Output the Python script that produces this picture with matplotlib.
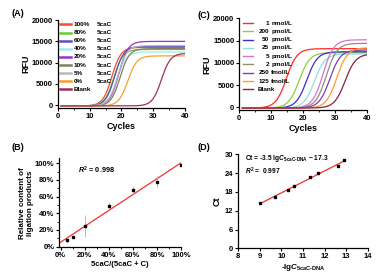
import matplotlib
matplotlib.use('Agg')
import matplotlib.pyplot as plt
from matplotlib.ticker import MultipleLocator, FuncFormatter
import numpy as np

plt.rcParams['font.family'] = ['Liberation Sans', 'DejaVu Sans']
plt.rcParams['font.weight'] = 'bold'
plt.rcParams['axes.labelweight'] = 'bold'
plt.rcParams['mathtext.fontset'] = 'custom'
plt.rcParams['mathtext.rm'] = 'Liberation Sans:bold'
plt.rcParams['mathtext.it'] = 'Liberation Sans:bold:italic'
plt.rcParams['mathtext.bf'] = 'Liberation Sans:bold'

# ---- data ----
# (A) amplification curves: label, midpoint cycle, plateau RFU, colour
a_labels = ['100%', '80%', '60%', '40%', '20%', '10%', '5%', '0%', 'Blank']
a_mid = [17.0, 17.6, 17.9, 18.6, 19.2, 19.6, 18.9, 22.0, 32.6]
a_plateau = [13600, 13100, 13800, 12500, 15000, 13300, 14000, 11600, 12200]
a_colors = ['#F2502A', '#66CC33', '#5B4FC8', '#A8E8E8', '#9B30C8',
            '#808060', '#B8B8B8', '#F5A030', '#A0305A']

# (C) amplification curves for dilution series
c_conc = ['1', '200', '50', '25', '5', '2', '250', '125', '']
c_unit = ['nmol/L', 'pmol/L', 'pmol/L', 'pmol/L', 'pmol/L', 'pmol/L',
          'fmol/L', 'fmol/L', 'Blank']
c_mid = [14.8, 18.8, 21.2, 23.6, 26.3, 27.3, 28.4, 30.6, 33.2]
c_plateau = [13200, 12300, 12500, 12000, 15200, 14400, 12900, 13400, 12000]
c_colors = ['#FF2A2A', '#88D040', '#3A30C8', '#90E0E0', '#DA70D6',
            '#909070', '#7A3CC0', '#FF9A30', '#8B2040']

# (B) relative content of ligation products
b_x = [5, 10, 20, 40, 60, 80, 100]
b_y = [8, 11, 25, 49, 68, 78, 98]
b_err = [4, 1, 13, 4, 5, 7, 1]

# (D) calibration line
d_x = [9.0, 9.7, 10.3, 10.6, 11.3, 11.7, 12.6, 12.9]
d_y = [14.3, 16.5, 18.6, 20.0, 22.8, 24.0, 26.4, 28.1]
d_slope, d_icpt = 3.5, -17.3

cycles = np.linspace(1, 40, 300)
base = -150


def curve(mid, top, steep):
    return base + (top - base) / (1 + np.exp(-steep * (cycles - mid)))


fig = plt.figure(figsize=(3.91, 2.79), dpi=100)

tick_fs = 5.5
lab_fs = 6.5


def style(ax):
    ax.spines['top'].set_visible(False)
    ax.spines['right'].set_visible(False)
    ax.spines['left'].set_linewidth(0.9)
    ax.spines['bottom'].set_linewidth(0.9)
    ax.tick_params(labelsize=tick_fs, width=0.8, length=2.5, pad=1)
    ax.tick_params(which='minor', width=0.6, length=1.5)
    for t in ax.get_xticklabels() + ax.get_yticklabels():
        t.set_fontweight('bold')


# ---- (A) ----
axA = fig.add_axes([0.148, 0.612, 0.325, 0.316])
for m, p, c in zip(a_mid, a_plateau, a_colors):
    axA.plot(cycles, curve(m, p, 0.7), color=c, lw=0.9)
axA.set_xlim(0, 40)
axA.set_ylim(-700, 20000)
axA.xaxis.set_major_locator(MultipleLocator(10))
axA.xaxis.set_minor_locator(MultipleLocator(5))
axA.yaxis.set_major_locator(MultipleLocator(5000))
axA.set_xlabel('Cycles', fontsize=lab_fs, labelpad=1)
axA.set_ylabel('RFU', fontsize=lab_fs, labelpad=1)
style(axA)
for i, (lab, c) in enumerate(zip(a_labels, a_colors)):
    yy = 0.95 - i * 0.092
    axA.plot([0.02, 0.1], [yy, yy], color=c, lw=1.8, transform=axA.transAxes)
    axA.text(0.125, yy, lab, fontsize=4.6, va='center', transform=axA.transAxes)
    if lab != 'Blank':
        axA.text(0.31, yy, '5caC', fontsize=4.6, va='center', transform=axA.transAxes)

# ---- (C) ----
axC = fig.add_axes([0.612, 0.604, 0.326, 0.33])
for m, p, c in zip(c_mid, c_plateau, c_colors):
    axC.plot(cycles, curve(m, p, 0.6), color=c, lw=0.9)
axC.set_xlim(0, 40)
axC.set_ylim(-700, 20000)
axC.xaxis.set_major_locator(MultipleLocator(10))
axC.xaxis.set_minor_locator(MultipleLocator(5))
axC.yaxis.set_major_locator(MultipleLocator(5000))
axC.set_xlabel('Cycles', fontsize=lab_fs, labelpad=1)
axC.set_ylabel('RFU', fontsize=lab_fs, labelpad=1)
style(axC)
for i, (num, unit, c) in enumerate(zip(c_conc, c_unit, c_colors)):
    yy = 0.95 - i * 0.09
    axC.plot([0.03, 0.11], [yy, yy], color=c, lw=1.0, transform=axC.transAxes)
    if num:
        axC.text(0.235, yy, num, fontsize=4.6, va='center', ha='right',
                 transform=axC.transAxes)
        axC.text(0.25, yy, unit, fontsize=4.6, va='center', transform=axC.transAxes)
    else:
        axC.text(0.14, yy, unit, fontsize=4.6, va='center', transform=axC.transAxes)

# ---- (B) ----
axB = fig.add_axes([0.152, 0.113, 0.311, 0.32])
fit = np.polyfit(b_x, b_y, 1)
xx = np.array([0, 100])
axB.plot(xx, np.polyval(fit, xx), color='#F03030', lw=0.9)
axB.errorbar(b_x, b_y, yerr=b_err, fmt='s', ms=1.6, color='black',
             ecolor='#B0B0B0', elinewidth=0.6, capsize=0)
axB.set_xlim(-1, 100)
axB.set_ylim(-1, 106)
axB.xaxis.set_major_locator(MultipleLocator(20))
axB.xaxis.set_minor_locator(MultipleLocator(10))
axB.yaxis.set_major_locator(MultipleLocator(20))
axB.yaxis.set_minor_locator(MultipleLocator(10))
pct = FuncFormatter(lambda v, p: '%d%%' % v)
axB.xaxis.set_major_formatter(pct)
axB.yaxis.set_major_formatter(pct)
axB.set_xlabel('5caC/(5caC + C)', fontsize=5.5, labelpad=1)
axB.set_ylabel('Relative content of\nligation products', fontsize=5.8, labelpad=1)
axB.text(0.15, 0.83, '$R^2$ = 0.998', fontsize=5.2, transform=axB.transAxes)
style(axB)

# ---- (D) ----
axD = fig.add_axes([0.609, 0.110, 0.332, 0.337])
xl = np.array([d_x[0], d_x[-1]])
axD.plot(xl, d_slope * xl + d_icpt, color='#F03030', lw=0.9)
axD.plot(d_x, d_y, 's', ms=1.6, color='black')
axD.set_xlim(8, 14)
axD.set_ylim(0, 30)
axD.xaxis.set_major_locator(MultipleLocator(1))
axD.yaxis.set_major_locator(MultipleLocator(6))
axD.set_xlabel('-lg$\\mathit{C}_{\\mathrm{5caC}\\text{-}\\mathrm{DNA}}$', fontsize=5.8, labelpad=1)
axD.set_ylabel('Ct', fontsize=lab_fs, labelpad=2)
axD.text(0.05, 0.95, 'Ct = -3.5 lg$\\mathit{C}_{\\mathrm{5caC}\\text{-}\\mathrm{DNA}}$ \u2212 17.3',
         fontsize=4.8, transform=axD.transAxes, va='center')
axD.text(0.05, 0.82, '$R^2$ =  0.997', fontsize=4.8, transform=axD.transAxes, va='center')
style(axD)

# panel letters
fig.text(0.03, 0.95, '(A)', fontsize=6.5, fontweight='bold', va='center')
fig.text(0.505, 0.945, '(C)', fontsize=6.5, fontweight='bold', va='center')
fig.text(0.03, 0.472, '(B)', fontsize=6.5, fontweight='bold', va='center')
fig.text(0.505, 0.47, '(D)', fontsize=6.5, fontweight='bold', va='center')

fig.savefig('out.png', dpi=100)
